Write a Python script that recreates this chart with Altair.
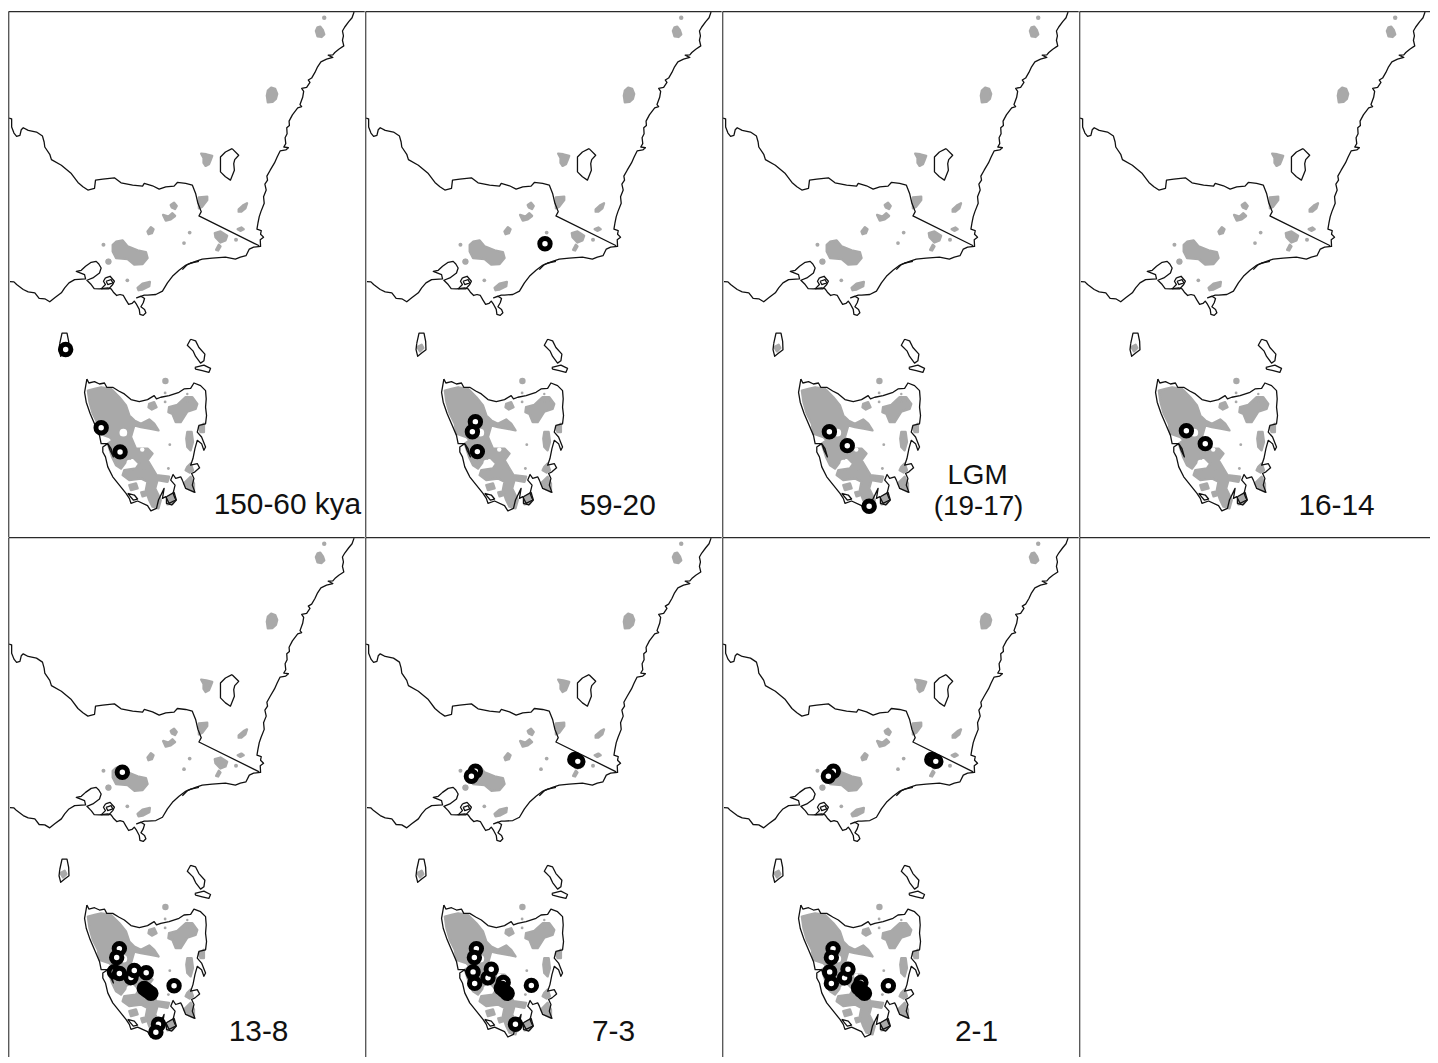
import altair as alt
import pandas as pd

# ---- traced map outlines (pixel readings from 3x crops, with crop origin)
COAST_EAST = [(1068,33),(1062,50),(1052,62),(1040,78),(1033,90),(1036,105),(1033,118),(1037,135),(1022,145),(1010,155),(1004,162),(990,163),(1004,170),(985,175),(968,183),(958,198),(950,215),(940,232),(930,238),(935,245),(925,260),(910,263),(916,272),(913,290),(905,312),(910,318),(898,322),(882,343),(872,362),(873,375),(865,382),(866,400),(860,412),(862,430),(856,440),(870,442),(862,449),(845,452),(836,470),(828,488),(815,510),(805,528),(807,540),(799,552),(803,570),(795,590),(797,610),(787,635),(782,650),(778,670),(775,688),(788,692),(786,703),(795,712),(785,720),(786,740),(765,742),(752,748),(742,768),(725,772),(710,778),(680,772),(640,775),(610,778),(590,785),(565,795),(550,810)]
COAST_SOUTH = [(600,95),(575,100),(558,108),(540,122),(520,140),(505,160),(490,185),(470,195),(445,197),(435,197),(412,205),(425,200),(436,207),(432,220),(425,232),(436,240),(440,250),(432,258),(422,255),(420,240),(412,225),(405,215),(398,222),(388,225),(380,212),(372,198),(362,195),(352,198),(342,188),(335,178),(325,175),(300,178),(284,177),(275,165),(262,152),(280,145),(300,130),(305,115),(298,103),(290,95),(275,98),(258,110),(245,122),(230,125),(255,135),(258,148),(225,150),(208,160),(195,175),(185,190),(165,205),(150,217),(135,208),(118,207),(105,190),(85,187),(70,180),(50,165),(42,157),(30,156)]
WESTERNPORT = [(318,145),(332,140),(345,155),(340,165),(328,178),(305,178),(318,165),(312,155),(318,145)]
WESTERNPORT2 = [(320,155),(335,150),(340,160),(325,165),(320,155)]
BORDER = [(27,353),(35,355),(35,380),(42,398),(50,408),(60,405),(64,388),(70,382),(85,390),(110,395),(128,407),(133,425),(135,440),(150,462),(155,478),(185,495),(215,520),(235,547),(250,560),(265,570),(285,565),(288,540),(310,537),(345,533),(365,548),(400,555),(430,558),(435,550),(460,557),(480,567),(500,560),(525,558),(535,547),(560,550),(580,555),(590,580),(597,610),(607,635),(600,648),(782,738)]
ACT = [(700,445),(720,465),(708,478),(705,490),(707,510),(695,540),(680,530),(665,515),(665,470),(680,455),(700,445)]
KING = [(180,222),(187,190),(202,190),(207,215),(208,240),(195,250),(183,260),(178,240),(180,222)]
FLINDERS = [(575,210),(590,215),(600,235),(618,255),(615,275),(605,282),(590,262),(582,245),(565,228),(575,210)]
BARREN = [(588,295),(615,288),(635,298),(630,310),(610,305),(590,300),(588,295)]
TAS = [(52,30),(58,42),(75,38),(90,45),(105,42),(112,55),(130,55),(148,66),(165,75),(185,92),(210,98),(235,92),(255,80),(262,90),(275,85),(300,80),(330,70),(345,60),(365,58),(375,42),(395,50),(410,65),(412,90),(410,115),(413,140),(410,165),(390,170),(385,190),(398,205),(410,235),(405,245),(398,225),(385,215),(378,240),(372,270),(365,290),(385,285),(392,298),(378,310),(368,315),(375,330),(370,350),(378,372),(350,360),(340,335),(335,325),(320,330),(312,318),(305,335),(318,350),(312,375),(320,395),(300,405),(290,385),(280,390),(285,360),(268,395),(262,420),(245,428),(235,412),(205,398),(185,405),(180,390),(170,375),(150,350),(130,325),(115,295),(108,265),(100,250),(100,235),(115,225),(122,245),(132,265),(125,240),(115,225),(95,225),(90,200),(75,165),(62,135),(50,100),(45,70),(52,30)]
TAS_ISLE = [(175,375),(195,380),(205,392),(192,395),(175,375)]
BRUNY = [(292,385),(315,372),(322,395),(308,410),(292,405),(292,385)]

BLOBS_Z1 = [
    [(953,90),(958,79),(966,77),(974,88),(978,100),(970,108),(958,106)],
    [(805,285),(808,270),(818,261),(830,265),(836,280),(832,295),(822,304),(808,305)],
    [(607,460),(622,462),(640,467),(635,480),(630,492),(620,497),(614,488),(614,473)],
    [(600,592),(625,590),(625,600),(610,620),(600,625)],
    [(515,615),(525,608),(533,618),(528,627),(518,622)],
    [(492,645),(508,650),(520,640),(528,648),(515,658),(500,662)],
    [(445,695),(455,682),(463,688),(458,700),(448,703)],
    [(720,628),(735,615),(745,610),(740,625),(728,635),(720,635)],
    [(717,688),(728,683),(735,688),(725,693)],
    [(648,700),(665,695),(685,708),(680,722),(665,728),(650,712)],
    [(652,750),(660,735),(665,740),(658,752)],
]
BLOBS_Z5 = [
    [(340,45),(350,36),(370,32),(385,50),(415,62),(440,67),(445,85),(430,103),(405,105),(385,88),(350,85),(340,65)],
    [(415,175),(430,162),(452,157),(450,170),(430,180),(418,182)],
]
BLOBS_Z4 = [
    [(55,65),(75,60),(95,55),(125,60),(150,85),(170,110),(180,140),(195,155),(215,165),(240,152),(255,165),(268,185),(245,180),(215,175),(195,170),(185,205),(200,240),(235,240),(250,255),(235,275),(262,320),(300,325),(295,340),(265,335),(258,360),(275,395),(268,420),(250,415),(240,395),(230,365),(235,340),(215,330),(180,335),(160,320),(165,305),(200,300),(210,285),(190,265),(170,280),(155,300),(140,290),(128,265),(115,225),(130,215),(120,205),(90,195),(85,165),(70,135),(60,100)],
    [(300,115),(325,108),(350,85),(370,85),(385,105),(380,120),(355,128),(335,160),(320,160),(310,135),(298,130)],
    [(240,105),(255,100),(262,115),(248,122),(238,115)],
    [(355,190),(368,190),(372,220),(365,245),(355,235),(352,210)],
    [(390,175),(405,165),(405,190),(395,190)],
    [(355,295),(365,285),(372,305),(362,312),(350,305)],
    [(180,350),(200,345),(205,360),(185,365)],
    [(216,372),(226,370),(232,380),(220,384)],
    [(345,345),(365,325),(375,345),(375,370),(355,360)],
    [(295,385),(315,375),(312,405),(295,408)],
]
KING_BLOB_Z3 = [(182,232),(195,225),(200,235),(190,245)]

# dots: x, y in reference pixels, size
DOTS_X = [326,190.7,237.3,185,104,109,128,109]
DOTS_Y = [16.7,232.7,240,243.3,245,261.7,280.7,262]
DOTS_S = [20,14,16,14,16,36,14,36]
TDOTS_X = [166,145,170.7,169.3,188.3,195,188.3,166.3,166]
TDOTS_Y = [403,470.7,446,470,395,403,403,382,394]
TDOTS_S = [8,8,8,8,6,8,6,42,8]
HOLES_X = [124,130,143]
HOLES_Y = [434,464,451]
HOLES_S = [60,30,20]

LABELS = [
    [("150-60 kya",289,516,30)],
    [("59-20",262,517,30)],
    [("LGM",265,486,28),("(19-17)",266,517,28)],
    [("16-14",267,517,30)],
    [("13-8",260,516.5,30)],
    [("7-3",258,516.5,30)],
    [("2-1",264,516.5,30)],
]

# open rings, reference-panel pixels
P1 = [(66,350.3),(101.7,429),(120.7,453.3)]
P2 = [(189,244),(119,423),(116,433),(121,453)]
P3 = [(116,433),(134,447),(156,508)]
P4 = [(116,432),(135,445)]
P5 = [(123,246.5),(120,423.8),(117.3,432.8),(115,447),(120,448.8),(131.7,452.8),(135,445.8),(147,448),(145,463.8),(148,466),(151.7,468.8),(175,461.2),(159.3,499.8),(156.7,507.8)]
P6 = [(119,245.5),(115,250.5),(219,233.5),(222,235.5),(120,423.8),(118,432.8),(116.7,447.2),(118.3,458.8),(131.7,453.2),(135,444.5),(147,457.8),(145,463.5),(148,466),(151,468.8),(175.3,460.8),(159.3,499.8)]
P7 = [(120,245.5),(115,250.5),(219,233.5),(223,235.5),(119.7,423.8),(118,432.8),(116.3,447.2),(118,458.8),(131.3,453.2),(134.7,444.5),(147.7,457.8),(145.3,463.2),(148,466),(151.3,468.8),(175.3,461.2)]
SOLID = {(148,466),(151.7,468.8),(151,468.8),(151.3,468.8)}

LEFT, TOP = 8.7, 10.5
RIGHT = 367.7


def pts(raw, ox, oy):
    return [[ox + x / 3, oy + y / 3] for x, y in raw]


def feat(kind, coords):
    return {"type": "Feature", "properties": {}, "geometry": {"type": kind, "coordinates": coords}}


def poly(c):
    return feat("Polygon", [c + [c[0]]])


LINES = [
    feat("LineString", pts(COAST_EAST, 0, 0)),
    feat("LineString", pts(COAST_SOUTH, 0, 230)),
    feat("LineString", pts(WESTERNPORT, 0, 230)),
    feat("LineString", pts(WESTERNPORT2, 0, 230)),
    feat("LineString", pts(BORDER, 0, 0)),
    feat("LineString", pts(ACT, 0, 0)),
    feat("LineString", pts(KING, 0, 270.5)),
    feat("LineString", pts(FLINDERS, 0, 270)),
    feat("LineString", pts(BARREN, 0, 270)),
    feat("LineString", pts(TAS, 70, 370)),
    feat("LineString", pts(TAS_ISLE, 70, 370)),
    feat("LineString", pts(BRUNY, 70, 370)),
]
GRAY = ([poly(pts(b, 0, 0)) for b in BLOBS_Z1]
        + [poly(pts(b, 0, 230)) for b in BLOBS_Z5]
        + [poly(pts(b, 70, 370)) for b in BLOBS_Z4]
        + [poly(pts(KING_BLOB_Z3, 0, 270.5))])

dots = pd.DataFrame({"x": DOTS_X + TDOTS_X, "y": DOTS_Y + TDOTS_Y, "s": DOTS_S + TDOTS_S})
holes = pd.DataFrame({"x": HOLES_X, "y": HOLES_Y, "s": HOLES_S})


def panel(rings, labels, width, height, ty, frame_h, frame_v):
    proj = dict(type="identity", scale=1, translate=[-8, ty])
    layers = []
    if rings:
        rdf = pd.DataFrame([{"x": x, "y": y, "f": "black" if (x, y) in SOLID else "white"} for x, y in rings])
        ldf = pd.DataFrame([{"t": t, "x": x, "y": y, "s": s} for t, x, y, s in labels])
        layers += [
            alt.Chart(alt.Data(values=GRAY)).mark_geoshape(fill="#a9a9a9", stroke="#a9a9a9", strokeWidth=2.4, strokeJoin="round").project(**proj),
            alt.Chart(dots).mark_circle(color="#a9a9a9", opacity=1).encode(longitude="x:Q", latitude="y:Q", size=alt.Size("s:Q", scale=None)).project(**proj),
            alt.Chart(holes).mark_circle(color="white", opacity=1).encode(longitude="x:Q", latitude="y:Q", size=alt.Size("s:Q", scale=None)).project(**proj),
            alt.Chart(alt.Data(values=LINES)).mark_geoshape(filled=False, stroke="#111111", strokeWidth=1.3, strokeJoin="round").project(**proj),
        ]
    layers += [
        alt.Chart(alt.Data(values=[feat("MultiLineString", frame_v)])).mark_geoshape(filled=False, stroke="#5a5a5a", strokeWidth=1.4).project(**proj),
        alt.Chart(alt.Data(values=[feat("MultiLineString", frame_h)])).mark_geoshape(filled=False, stroke="#2a2a2a", strokeWidth=1.3).project(**proj),
    ]
    if rings:
        layers += [
            alt.Chart(rdf).mark_circle(stroke="black", strokeWidth=5, size=110, opacity=1).encode(longitude="x:Q", latitude="y:Q", fill=alt.Fill("f:N", scale=None)).project(**proj),
            alt.Chart(ldf).mark_text(font="Liberation Sans", align="center", baseline="alphabetic", color="#111111").encode(longitude="x:Q", latitude="y:Q", text="t:N", size=alt.Size("s:Q", scale=None)).project(**proj),
        ]
    return alt.layer(*layers).properties(width=width, height=height)


H1, H2 = 529, 523
TY1, TY2 = -9.85, -9.85
YB1 = 538.8
YB2 = 533.4
f1_v = [[[LEFT, TOP], [LEFT, YB1]]]
f1_h = [[[LEFT, TOP], [RIGHT - 1, TOP]]]
f4_h = [[[LEFT, TOP], [361, TOP]]]
f2_v = [[[LEFT, TOP], [LEFT, YB2]]]

chart = alt.concat(
    panel(P1, LABELS[0], 359, H1, TY1, f1_h, f1_v),
    panel(P2, LABELS[1], 359, H1, TY1, f1_h, f1_v),
    panel(P3, LABELS[2], 359, H1, TY1, f1_h, f1_v),
    panel(P4, LABELS[3], 353, H1, TY1, f4_h, f1_v),
    panel(P5, LABELS[4], 359, H2, TY2, f1_h, f2_v),
    panel(P6, LABELS[5], 359, H2, TY2, f1_h, f2_v),
    panel(P7, LABELS[6], 359, H2, TY2, f1_h, f2_v),
    panel([], [], 353, H2, TY2, f4_h, f2_v),
    columns=4, spacing=0, bounds="flush",
).properties(padding=0).configure_view(stroke=None).configure_concat(spacing=0)
chart.save("out.html", embed_options={"renderer": "svg", "actions": False})
